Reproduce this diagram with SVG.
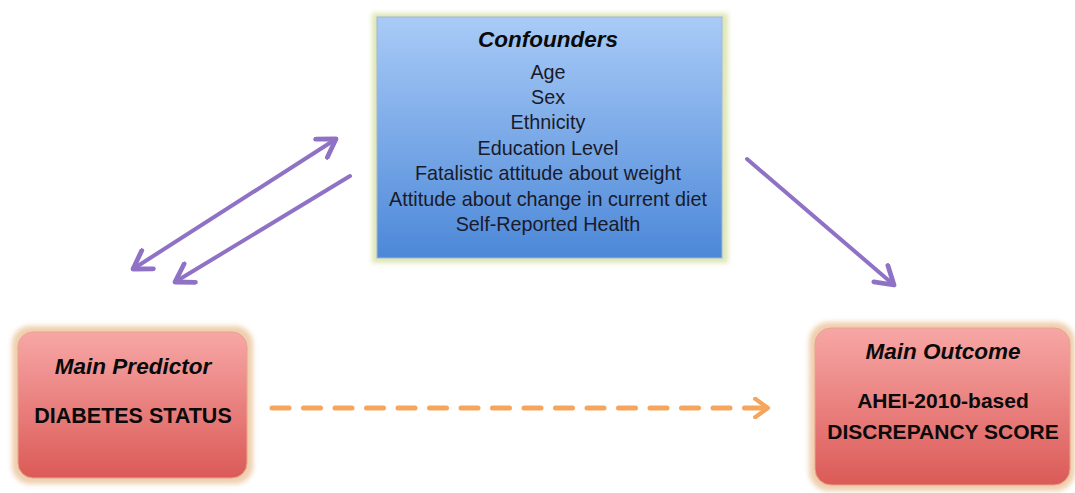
<svg xmlns="http://www.w3.org/2000/svg" width="1075" height="493" viewBox="0 0 1075 493">
<defs>
<linearGradient id="blue" x1="0" y1="0" x2="0" y2="1">
<stop offset="0" stop-color="#a9cbf7"/>
<stop offset="1" stop-color="#4c88d8"/>
</linearGradient>
<linearGradient id="red" x1="0" y1="0" x2="0" y2="1">
<stop offset="0" stop-color="#f7a7a6"/>
<stop offset="1" stop-color="#db5a57"/>
</linearGradient>
<filter id="glow" x="-10%" y="-10%" width="120%" height="120%">
<feGaussianBlur stdDeviation="2.5"/>
</filter>
<filter id="soft" x="-10%" y="-10%" width="120%" height="120%">
<feGaussianBlur stdDeviation="0.6"/>
</filter>
<marker id="ph" viewBox="0 0 12 12" refX="10" refY="6" markerWidth="6.5" markerHeight="6.5" orient="auto-start-reverse" markerUnits="strokeWidth">
<path d="M2,1 L10,6 L2,11" fill="none" stroke="#8f72c6" stroke-width="2.2" stroke-linecap="round" stroke-linejoin="round"/>
</marker>
<marker id="oh" viewBox="0 0 12 12" refX="10" refY="6" markerWidth="4.4" markerHeight="4.4" orient="auto" markerUnits="strokeWidth">
<path d="M3,1 L10,6 L3,11" fill="none" stroke="#f5a55c" stroke-width="2.3" stroke-linecap="round" stroke-linejoin="round"/>
</marker>
</defs>
<style>
.t{font-family:"Liberation Sans",Arial,sans-serif;fill:#0a0a0a;text-anchor:middle}
.bi{font-weight:bold;font-style:italic}
.b{font-weight:bold}
.c{font-size:19.8px;fill:#1a1a2a}
.p{stroke:#8f72c6;stroke-width:4;fill:none;stroke-linecap:round}
</style>
<rect width="1075" height="493" fill="#ffffff"/>
<g id="connectors" filter="url(#soft)">
<line class="p" x1="133" y1="269" x2="336" y2="139" marker-start="url(#ph)" marker-end="url(#ph)"/>
<line class="p" x1="350" y1="176" x2="175" y2="282" marker-end="url(#ph)"/>
<line class="p" x1="747" y1="159" x2="894" y2="285" marker-end="url(#ph)"/>
<line x1="272" y1="408" x2="768" y2="408" stroke="#f5a55c" stroke-width="5" stroke-dasharray="17 14.5" stroke-linecap="round" marker-end="url(#oh)"/>
</g>
<g id="confounders">
<rect x="372" y="13" width="356" height="250" fill="#dfe6b4" filter="url(#glow)"/>
<rect x="377" y="17" width="345" height="241" fill="url(#blue)" stroke="#9fb6d8" stroke-width="1"/>
<text class="t bi" x="548" y="47" font-size="22.5">Confounders</text>
<text class="t c" x="548" y="79">Age</text>
<text class="t c" x="548" y="104">Sex</text>
<text class="t c" x="548" y="129">Ethnicity</text>
<text class="t c" x="548" y="155">Education Level</text>
<text class="t c" x="548" y="180">Fatalistic attitude about weight</text>
<text class="t c" x="548" y="206">Attitude about change in current diet</text>
<text class="t c" x="548" y="231">Self-Reported Health</text>
</g>
<g id="predictor">
<rect x="12" y="326" width="241" height="158" rx="18" fill="#efcfae" filter="url(#glow)"/>
<rect x="18" y="332" width="229" height="146" rx="15" fill="url(#red)" stroke="#e8a48c" stroke-width="1"/>
<text class="t bi" x="133" y="374" font-size="22.5">Main Predictor</text>
<text class="t b" x="133" y="423" font-size="21.5">DIABETES STATUS</text>
</g>
<g id="outcome">
<rect x="809" y="322" width="266" height="169" rx="20" fill="#efcfae" filter="url(#glow)"/>
<rect x="815" y="328" width="255" height="157" rx="16" fill="url(#red)" stroke="#e8a48c" stroke-width="1"/>
<text class="t bi" x="943" y="359" font-size="22.5">Main Outcome</text>
<text class="t b" x="943" y="408" font-size="21">AHEI-2010-based</text>
<text class="t b" x="943" y="439" font-size="21">DISCREPANCY SCORE</text>
</g>
</svg>
